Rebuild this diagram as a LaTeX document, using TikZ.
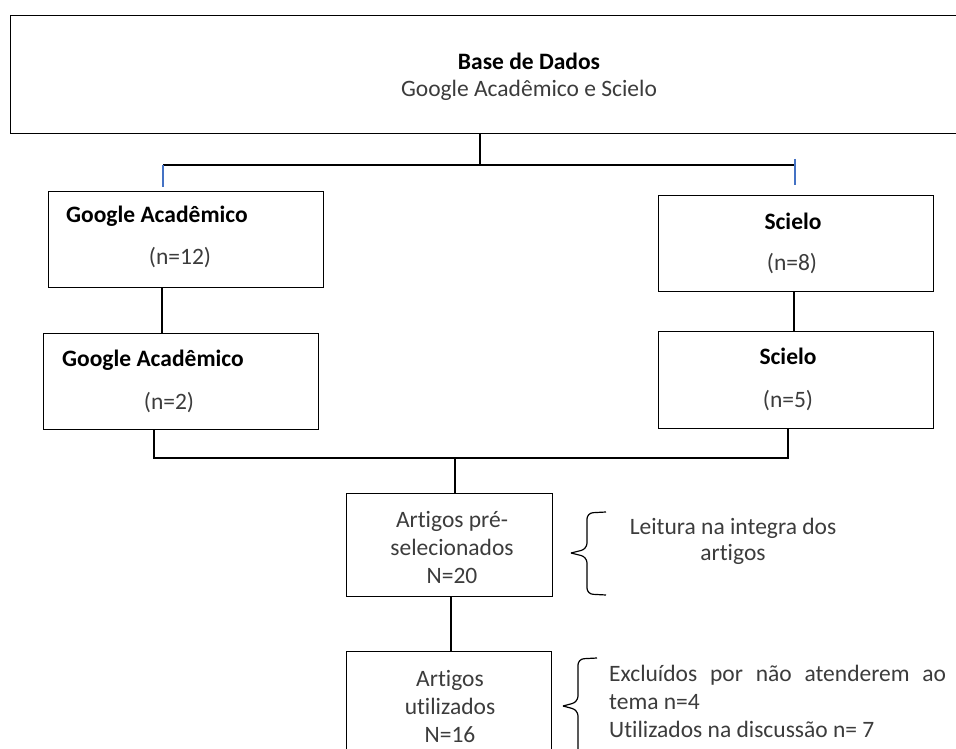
\documentclass[tikz,border=0pt]{standalone}
\usepackage{fontspec}
\setmainfont{Carlito}[Ligatures=NoCommon]
\definecolor{bodytext}{RGB}{60,60,60}
\definecolor{tickblue}{RGB}{68,114,196}
\begin{document}
\begin{tikzpicture}[x=1pt,y=-1pt,
  box/.style={draw=black,line width=1.3pt,rectangle,inner sep=0pt,anchor=north west},
  title/.style={font=\fontsize{23.5}{28}\selectfont\bfseries,text=black,inner sep=0pt,anchor=base},
  body/.style={font=\fontsize{23.5}{28}\selectfont,text=bodytext,inner sep=0pt,anchor=base},
  conn/.style={draw=black,line width=1.3pt},
  tick/.style={draw=tickblue,line width=1.2pt},
  bracepath/.style={draw=black,line width=1.2pt,rounded corners=6pt}]
\useasboundingbox[fill=white] (0,0) rectangle (956,749);
% top box
\node[box,minimum width=1060pt,minimum height=118pt] (top) at (10,15) {};
\node[title] (toptitle) at (529,70) {Base de Dados};
\node[body] (topsub) at (529,97) {Google Acadêmico e Scielo};
% first level boxes
\node[box,minimum width=275pt,minimum height=96pt] (g1) at (48,191) {};
\node[title,anchor=base west] (g1t) at (66,222) {Google Acadêmico};
\node[body] (g1n) at (180,264) {(n=12)};
\node[box,minimum width=275pt,minimum height=96pt] (s1) at (658,195) {};
\node[title] (s1t) at (793,229) {Scielo};
\node[body] (s1n) at (792,270) {(n=8)};
% second level boxes
\node[box,minimum width=275pt,minimum height=96pt] (g2) at (43,333) {};
\node[title,anchor=base west] (g2t) at (62,366) {Google Acadêmico};
\node[body] (g2n) at (169,409) {(n=2)};
\node[box,minimum width=275pt,minimum height=97pt] (s2) at (658,331) {};
\node[title] (s2t) at (788,364) {Scielo};
\node[body] (s2n) at (788,407) {(n=5)};
% lower boxes
\node[box,minimum width=206pt,minimum height=103pt] (pre) at (346,493) {};
\node[body] (pre1) at (452,527) {Artigos pré-};
\node[body] (pre2) at (452,555) {selecionados};
\node[body] (pre3) at (452,583) {N=20};
\node[box,minimum width=205pt,minimum height=120pt] (util) at (346,651) {};
\node[body] (util1) at (450,686) {Artigos};
\node[body] (util2) at (450,714) {utilizados};
\node[body] (util3) at (450,742) {N=16};
% junction coordinates
\coordinate (j0) at (480,165);
\coordinate (jl) at (163,165);
\coordinate (jr) at (795,165);
\coordinate (jrt) at (795,159);
\coordinate (jlb) at (163,187);
\coordinate (jrb) at (795,185);
\coordinate (k0) at (455,458);
\coordinate (kl) at (154,458);
\coordinate (kr) at (788,458);
% connectors upper
\draw[conn] (top.south -| j0) -- (j0);
\draw[conn] (jl) -- (jr);
\draw[tick] (jl) -- (jlb);
\draw[tick] (jrt) -- (jrb);
\draw[conn] (g1.south -| 162,0) -- (g2.north -| 162,0);
\draw[conn] (s1.south -| 794,0) -- (s2.north -| 794,0);
% connectors lower
\draw[conn] (g2.south -| kl) -- (kl) -- (kr) -- (s2.south -| kr);
\draw[conn] (k0) -- (pre.north -| k0);
\draw[conn] (pre.south -| 451,0) -- (util.north -| 451,0);
% braces
\coordinate (b1tip) at (571,553);
\coordinate (b2tip) at (563,706);
\draw[bracepath] (606,512) -- (587,513) -- (587,549) -- (b1tip);
\draw[bracepath] (b1tip) -- (587,557) -- (587,594) -- (606,595);
\draw[bracepath] (597,658) -- (578,659) -- (578,702) -- (b2tip);
\draw[bracepath] (b2tip) -- (578,710) -- (578,770);
% brace texts
\node[body] (lt1) at (733,534) {Leitura na integra dos};
\node[body] (lt2) at (733,560) {artigos};
\node[body,anchor=base west] (e1) at (609,681) {\makebox[337pt][s]{Excluídos por não atenderem ao}};
\node[body,anchor=base west] (e2) at (609,709) {tema n=4};
\node[body,anchor=base west] (e3) at (609,737) {Utilizados na discussão n= 7};
\end{tikzpicture}
\end{document}
